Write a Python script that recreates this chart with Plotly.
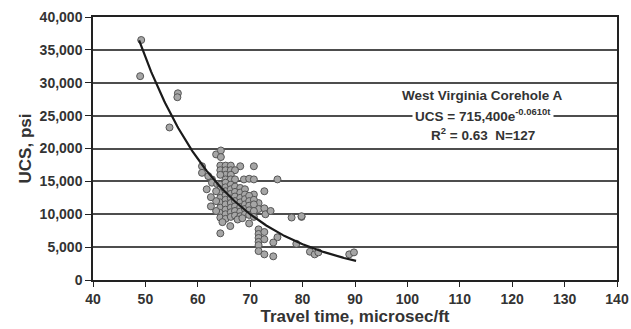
import numpy as np
import plotly.graph_objects as go

# Travel time (microsec/ft) and UCS (psi)
travel_time = [
    49.2, 49.0, 56.2, 56.1, 54.6, 63.5, 64.4, 64.4, 60.8, 60.8,
    64.3, 65.3, 66.3, 68.1, 70.7, 64.3, 65.3, 66.3, 67.1, 65.3,
    66.3, 64.3, 62.7, 65.3, 66.3, 67.1, 68.8, 69.8, 70.7, 75.2,
    61.7, 62.7, 63.7, 72.7, 70.7, 71.6, 71.6, 72.7, 69.8, 64.3,
    66.2, 77.9, 79.8, 71.6, 71.6, 71.6, 71.6, 71.6, 71.6, 72.7,
    72.7, 72.7, 74.4, 75.2, 74.4, 78.8, 81.4, 82.3, 83.0, 88.9,
    89.8, 79.8,
    64.3, 64.3, 64.3, 64.3, 64.3, 64.3, 64.3, 64.3,
    65.3, 65.3, 65.3, 65.3, 65.3, 65.3, 65.3, 65.3, 65.3,
    66.3, 66.3, 66.3, 66.3, 66.3, 66.3, 66.3, 66.3,
    67.1, 67.1, 67.1, 67.1, 67.1, 67.1, 67.1,
    68.1, 68.1, 68.1, 68.1, 68.1, 68.1, 68.1,
    69.0, 69.0, 69.0, 69.0, 69.0, 69.0,
    69.8, 69.8, 69.8, 69.8, 69.8,
    70.7, 70.7, 70.7, 70.7,
    63.5, 63.5, 63.5, 62.5, 62.5,
    67.6, 68.5, 72.9, 73.9, 64.7, 62.0,
]
ucs = [
    36500, 31000, 28400, 27800, 23200, 19100, 19700, 18700, 17300, 16300,
    17400, 17400, 17400, 17300, 17300, 16700, 16700, 16700, 16700, 16000,
    16000, 16000, 15300, 15300, 15300, 15300, 15300, 15400, 15300, 15300,
    13800, 14800, 14600, 13500, 13000, 11700, 10800, 10900, 8600, 7100,
    8200, 9500, 9600, 7700, 7000, 6400, 5800, 5300, 4400, 7300,
    6200, 3900, 3600, 6500, 5700, 5500, 4300, 3900, 4200, 3900,
    4200, 9700,
    14500, 13800, 13200, 12500, 11800, 11000, 10200, 9500,
    14800, 14100, 13500, 12900, 12200, 11500, 10700, 10000, 9300,
    14500, 13800, 13100, 12400, 11700, 11000, 10300, 9600,
    14200, 13400, 12700, 12000, 11200, 10500, 9800,
    14000, 13300, 12500, 11800, 11100, 10400, 9700,
    13800, 13000, 12300, 11500, 10800, 10000,
    12800, 12000, 11300, 10600, 9900,
    12200, 11500, 10500, 9600,
    13500, 12000, 10500, 12600, 11200,
    9200, 9400, 10000, 10500, 8800, 15800,
]

# Fitted trend: UCS = 715,400 e^(-0.0610 t)
fit_a = 715400
fit_b = -0.0610
fit_t = np.linspace(48.8, 90.2, 200)
fit_ucs = fit_a * np.exp(fit_b * fit_t)

x_ticks = list(range(40, 141, 10))

font_family = "Liberation Sans, Arial, sans-serif"
text_color = "#333333"

fig = go.Figure()
fig.add_trace(go.Scatter(
    x=travel_time, y=ucs, mode="markers",
    marker=dict(size=7, color="#a6a6a6", line=dict(color="#555555", width=1)),
    showlegend=False, hoverinfo="x+y",
))
fig.add_trace(go.Scatter(
    x=fit_t, y=fit_ucs, mode="lines",
    line=dict(color="#1a1a1a", width=2.2),
    showlegend=False, hoverinfo="skip",
))

fig.update_layout(
    width=631, height=329,
    margin=dict(l=93, r=14, t=17, b=49, autoexpand=False),
    paper_bgcolor="white", plot_bgcolor="white",
    font=dict(family=font_family, color=text_color),
    xaxis=dict(
        range=[40, 140], tickmode="array", tickvals=x_ticks, ticks="outside", ticklen=5,
        tickcolor="#222222", showgrid=False, zeroline=False, automargin=False,
        ticklabeloverflow="allow",
        showline=True, linecolor="#222222", linewidth=1.5, mirror=True,
        tickfont=dict(size=14, family=font_family, weight="bold", color=text_color),
        title=dict(text="<b>Travel time, microsec/ft</b>", standoff=2,
                   font=dict(size=17, family=font_family, color=text_color)),
    ),
    yaxis=dict(
        range=[0, 40000], tickmode="linear", tick0=0, dtick=5000, tickformat=",d",
        ticks="outside", ticklen=6, tickcolor="#222222", automargin=False,
        ticklabeloverflow="allow",
        showgrid=True, gridcolor="#4d4d4d", gridwidth=1.5, zeroline=False,
        showline=True, linecolor="#222222", linewidth=1.5, mirror=True,
        tickfont=dict(size=14, family=font_family, weight="bold", color=text_color),
        title=dict(text="<b>UCS, psi</b>", standoff=4,
                   font=dict(size=17, family=font_family, color=text_color)),
    ),
)

ann_font = dict(size=13.5, family=font_family, color=text_color)
fig.add_annotation(x=114.4, y=28100, text="<b>West Virginia Corehole A</b>", showarrow=False,
                   font=ann_font, xanchor="center", yanchor="middle")
fig.add_annotation(x=114.4, y=25100, text="<b>UCS = 715,400e<sup>-0.0610t</sup></b>",
                   showarrow=False, font=ann_font, xanchor="center", yanchor="middle",
                   bgcolor="white", borderpad=2)
fig.add_annotation(x=114.4, y=22200, text="<b>R<sup>2</sup> = 0.63  N=127</b>", showarrow=False,
                   font=ann_font, xanchor="center", yanchor="middle")

fig.write_html("out.html",
               config={"displayModeBar": False},
               post_script="document.body.style.margin='0px';document.body.style.overflow='hidden';")
